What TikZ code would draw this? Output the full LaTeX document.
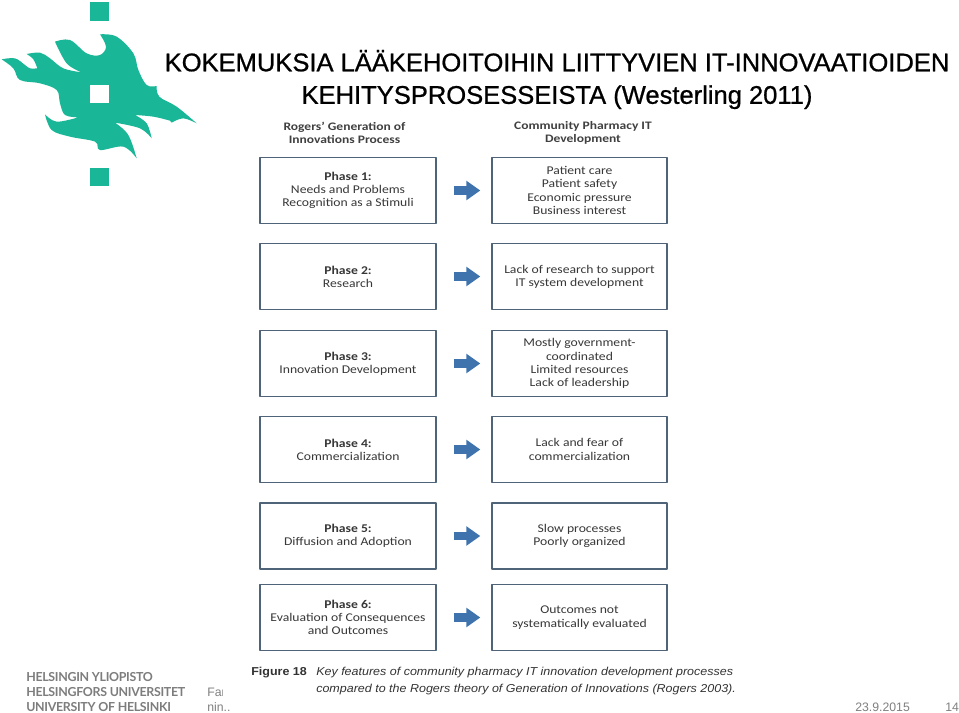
\documentclass[tikz,border=0pt]{standalone}
\usepackage{fontspec}
\setmainfont{Liberation Sans}
\newfontfamily\titlefont[FakeBold=0.8]{Liberation Sans}
\newfontfamily\capfont[FakeStretch=1.09]{Liberation Sans}
\newfontfamily\boxfont[FakeStretch=1.15]{Carlito}
\newfontfamily\headfont[FakeStretch=1.18]{Carlito}
\newfontfamily\logofont[LetterSpace=-2.5]{Lato}
\usetikzlibrary{arrows.meta}
\definecolor{hygreen}{HTML}{19B798}
\definecolor{boxedge}{HTML}{4F6478}
\definecolor{arrowblue}{HTML}{3F73AE}
\definecolor{hygrey}{HTML}{7D7D7D}

\begin{document}
\begin{tikzpicture}[x=0.75pt, y=-0.75pt, line join=round,
    phasebox/.style={draw=boxedge, line width=1.3pt, fill=white, minimum width=131.5pt, minimum height=49.5pt,
      align=center, inner sep=0pt, font=\boxfont\fontsize{8.9}{9.9}\selectfont, text=black!78},
    headtext/.style={align=center, font=\headfont\bfseries\fontsize{8.6}{9.6}\selectfont, text=black!75},
    blockarrow/.style={-{Triangle[length=10.5pt,width=14pt]}, draw=arrowblue, line width=6.5pt, shorten >=8pt, shorten <=13pt},
    titletext/.style={align=center, font=\titlefont\fontsize{19.15}{24.4}\selectfont},
    captiontext/.style={anchor=west, inner sep=0pt, font=\capfont\fontsize{8.6}{9}\selectfont, text=black!80},
    foottext/.style={anchor=west, inner sep=0pt, font=\fontsize{9.2}{11}\selectfont, text=black!50},
    logotext/.style={anchor=west, align=left, inner sep=0pt, font=\logofont\bfseries\fontsize{9.3}{11.2}\selectfont, text=hygrey}]
    \useasboundingbox (0,0) rectangle (959,713);
    \fill[white] (0,0) rectangle (959,713);

    % logo
    \begin{scope}[x=0.25pt, y=-0.25pt]
      \fill[hygreen] plot[smooth, tension=0.6] coordinates {(5,178) (45,175) (75,195) (90,205) (112,205)}
        -- plot[smooth, tension=0.6] coordinates {(112,205) (100,178) (80,162)}
        -- plot[smooth, tension=0.6] coordinates {(80,162) (120,158) (150,175) (190,205) (245,217)}
        -- plot[smooth, tension=0.6] coordinates {(245,217) (200,190) (165,125)}
        -- plot[smooth, tension=0.6] coordinates {(165,125) (210,120) (260,160) (300,165) (318,140) (300,103)}
        -- plot[smooth, tension=0.6] coordinates {(300,103) (350,110) (400,160) (415,210) (440,255) (470,258)}
        -- plot[smooth, tension=0.6] coordinates {(470,258) (478,290) (530,320) (590,370)}
        -- plot[smooth, tension=0.6] coordinates {(590,370) (550,355) (515,368)}
        -- plot[smooth, tension=0.6] coordinates {(510,362) (460,350) (405,345)}
        -- plot[smooth, tension=0.6] coordinates {(405,345) (440,370) (455,415)}
        -- plot[smooth, tension=0.6] coordinates {(455,415) (420,385) (345,368)}
        -- plot[smooth, tension=0.6] coordinates {(345,368) (385,405) (410,475)}
        -- plot[smooth, tension=0.6] coordinates {(410,475) (370,440) (300,450) (285,425) (210,410) (155,390) (135,343)}
        -- plot[smooth, tension=0.6] coordinates {(135,343) (170,365) (235,352)}
        -- plot[smooth, tension=0.6] coordinates {(235,352) (195,345) (180,310) (170,270) (120,250) (60,240) (40,205) (5,178)}
        -- cycle;
      \fill[hygreen] (270,7) rectangle (326,62);
      \fill[white] (270,255) rectangle (326,310);
      \fill[hygreen] (270,503) rectangle (326,558);
    \end{scope}

    \node[titletext] (title) at (557,79.5) {KOKEMUKSIA LÄÄKEHOITOIHIN LIITTYVIEN IT-INNOVAATIOIDEN\\KEHITYSPROSESSEISTA (Westerling 2011)};

    \node[headtext] (headl) at (344.5,133) {Rogers’ Generation of\\Innovations Process};
    \node[headtext] (headr) at (583,133) {Community Pharmacy IT\\Development};

    \node[phasebox] (phase1) at (348,190.5) {\textbf{Phase 1:}\\Needs and Problems\\Recognition as a Stimuli};
    \node[phasebox] (dev1) at (579.5,190.5) {Patient care\\Patient safety\\Economic pressure\\Business interest};
    \node[phasebox] (phase2) at (348,276.5) {\textbf{Phase 2:}\\Research};
    \node[phasebox] (dev2) at (579.5,276.5) {Lack of research to support\\IT system development};
    \node[phasebox] (phase3) at (348,363.5) {\textbf{Phase 3:}\\Innovation Development};
    \node[phasebox] (dev3) at (579.5,363.5) {Mostly government-\\coordinated\\Limited resources\\Lack of leadership};
    \node[phasebox] (phase4) at (348,449.5) {\textbf{Phase 4:}\\Commercialization};
    \node[phasebox] (dev4) at (579.5,449.5) {Lack and fear of\\commercialization};
    \node[phasebox] (phase5) at (348,536) {\textbf{Phase 5:}\\Diffusion and Adoption};
    \node[phasebox] (dev5) at (579.5,536) {Slow processes\\Poorly organized};
    \node[phasebox] (phase6) at (348,617.5) {\textbf{Phase 6:}\\Evaluation of Consequences\\and Outcomes};
    \node[phasebox] (dev6) at (579.5,617.5) {Outcomes not\\systematically evaluated};

    \draw[blockarrow] (phase1) -- (dev1);
    \draw[blockarrow] (phase2) -- (dev2);
    \draw[blockarrow] (phase3) -- (dev3);
    \draw[blockarrow] (phase4) -- (dev4);
    \draw[blockarrow] (phase5) -- (dev5);
    \draw[blockarrow] (phase6) -- (dev6);

    \node[logotext] (logo) at (26,692) {HELSINGIN YLIOPISTO\\HELSINGFORS UNIVERSITET\\UNIVERSITY OF HELSINKI};
    \node[foottext] (foota) at (207,692) {Far};
    \node[foottext] (footb) at (207,707) {nin..};
    \fill[white] (223,660) rectangle (745,701);
    \node[captiontext] (figlabel) at (251,673) {\textbf{Figure 18}};
    \node[captiontext] (capa) at (316,673) {\textit{Key features of community pharmacy IT innovation development processes}};
    \node[captiontext] (capb) at (316,690) {\textit{compared to the Rogers theory of Generation of Innovations (Rogers 2003).}};
    \node[foottext] (date) at (855,707) {23.9.2015};
    \node[foottext] (page) at (945,707) {14};
  \end{tikzpicture}
\end{document}
